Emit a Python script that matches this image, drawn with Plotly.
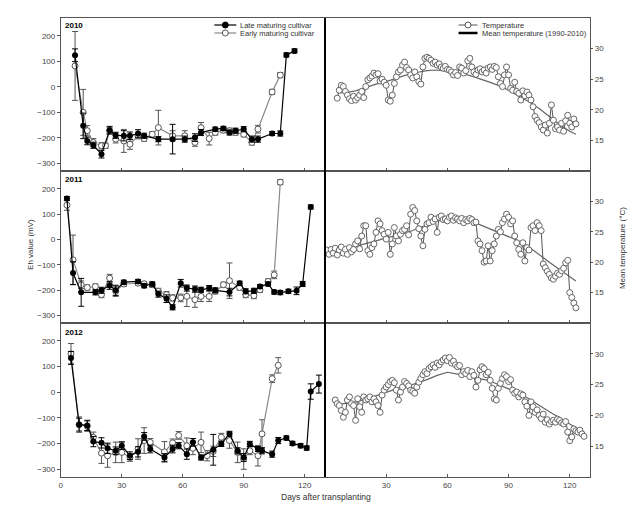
import plotly.graph_objects as go

# Eh values (mV) by year - late and early maturing cultivar
late_2010_day = [7, 11, 13, 16, 20, 24, 27, 31, 34, 38, 41, 48, 55, 61, 66, 69, 76, 80, 83, 86, 90, 94, 97, 104, 108, 111, 115]
late_2010_eh = [124, -153, -212, -229, -264, -170, -190, -192, -192, -183, -192, -205, -205, -205, -199, -179, -166, -163, -179, -172, -166, -205, -205, -183, -183, 125, 141]
late_2010_err = [25, 50, 15, 12, 15, 15, 12, 20, 15, 15, 10, 10, 58, 12, 15, 12, 8, 8, 10, 10, 10, 12, 12, 8, 10, 8, 8]
early_2010_day = [7, 11, 13, 16, 20, 22, 24, 27, 31, 34, 38, 41, 45, 48, 55, 61, 66, 69, 73, 76, 80, 83, 86, 90, 94, 97, 104, 108]
early_2010_eh = [82, -100, -172, -218, -231, -231, -172, -205, -212, -225, -192, -203, -186, -160, -192, -192, -218, -160, -203, -179, -170, -172, -179, -186, -218, -166, -20, 46]
early_2010_err = [135, 90, 20, 15, 12, 10, 12, 15, 45, 20, 12, 10, 10, 68, 20, 20, 15, 20, 25, 10, 10, 10, 10, 10, 10, 15, 10, 10]

late_2011_day = [3, 6, 10, 17, 20, 24, 27, 31, 38, 41, 45, 48, 52, 55, 59, 62, 66, 69, 73, 76, 83, 88, 91, 95, 98, 102, 105, 108, 112, 116, 119, 123]
late_2011_eh = [161, -133, -209, -209, -201, -182, -201, -169, -166, -183, -176, -216, -234, -268, -173, -192, -196, -199, -192, -201, -208, -173, -205, -203, -186, -176, -208, -210, -205, -203, -176, 128]
late_2011_err = [8, 45, 55, 10, 12, 15, 20, 8, 8, 8, 8, 12, 15, 10, 15, 12, 12, 10, 10, 10, 15, 8, 10, 10, 8, 8, 8, 8, 8, 15, 10, 8]
early_2011_day = [3, 6, 10, 13, 17, 20, 24, 27, 31, 38, 41, 45, 48, 52, 55, 59, 62, 66, 69, 73, 76, 80, 83, 88, 91, 95, 98, 102, 105, 108]
early_2011_eh = [135, -81, -179, -190, -186, -218, -153, -205, -176, -173, -175, -179, -205, -218, -231, -231, -225, -238, -225, -225, -205, -179, -163, -190, -218, -222, -199, -166, -140, 226]
early_2011_err = [20, 98, 15, 10, 10, 12, 15, 20, 10, 8, 8, 10, 12, 12, 12, 15, 40, 30, 20, 20, 10, 10, 70, 10, 12, 12, 10, 10, 15, 10]

late_2012_day = [5, 9, 13, 16, 20, 23, 27, 30, 34, 38, 41, 44, 51, 55, 58, 62, 65, 69, 75, 79, 83, 87, 90, 93, 97, 99, 104, 107, 111, 114, 118, 121, 123, 127]
late_2012_eh = [134, -126, -129, -192, -197, -218, -228, -208, -247, -232, -172, -221, -254, -221, -208, -241, -195, -254, -224, -201, -162, -228, -254, -201, -221, -228, -241, -188, -178, -199, -208, -217, 3, 32]
late_2012_err = [25, 25, 20, 20, 20, 20, 15, 15, 15, 20, 15, 15, 15, 15, 12, 20, 15, 10, 60, 10, 10, 12, 15, 10, 10, 12, 12, 12, 8, 8, 8, 8, 30, 35]
early_2012_day = [5, 9, 13, 16, 20, 23, 27, 30, 34, 38, 41, 44, 51, 55, 58, 62, 65, 69, 72, 75, 79, 83, 87, 90, 93, 97, 99, 104, 107]
early_2012_eh = [150, -126, -132, -175, -237, -247, -234, -234, -254, -221, -188, -195, -232, -197, -168, -208, -218, -195, -247, -230, -175, -188, -234, -260, -228, -247, -162, 53, 105]
early_2012_err = [40, 30, 20, 20, 40, 45, 40, 40, 15, 40, 50, 15, 40, 15, 15, 30, 25, 40, 20, 20, 15, 30, 40, 40, 15, 40, 55, 15, 30]

# daily temperature (deg C)
temp_2010 = [21.9, 23.2, 24.0, 23.8, 23.0, 22.4, 21.8, 21.5, 22.2, 21.6, 22.0, 22.4, 23.0, 22.0, 23.8,
             24.9, 25.2, 25.5, 26.0, 25.7, 25.9, 24.7, 25.0, 24.5, 24.0, 21.6, 21.4, 22.4, 24.3, 25.4,
             26.2, 26.5, 27.3, 27.8, 26.9, 26.5, 25.7, 25.2, 26.2, 25.4, 24.6, 24.2, 27.0, 28.4, 28.6,
             28.4, 28.1, 27.6, 27.8, 27.3, 27.5, 27.0, 26.8, 27.1, 26.6, 26.5, 26.2, 25.7, 26.1, 25.6,
             27.0, 26.8, 26.0, 26.4, 28.0, 28.4, 27.0, 26.2, 25.8, 26.5, 26.7, 26.2, 26.5, 26.0, 26.8,
             27.0, 26.6, 27.1, 26.9, 25.4, 24.3, 23.8, 25.7, 27.0, 25.7, 23.5, 23.2, 24.5, 23.0, 22.7,
             21.6, 23.1, 22.3, 22.9, 22.4, 21.6, 20.5, 18.9, 18.3, 17.9, 17.2, 16.7, 17.5, 16.2, 17.8,
             20.8, 18.3, 16.9, 17.2, 16.7, 17.8, 16.5, 18.2, 19.1, 17.8, 17.2, 18.5, 17.7]
temp_2010_day = list(range(6, 6 + len(temp_2010)))
temp_2011 = [22.0, 21.3, 22.1, 21.5, 22.3, 21.2, 22.0, 22.5, 21.5, 22.1, 21.3, 22.4, 21.7, 22.1, 23.0,
             23.5, 22.2, 24.3, 26.0, 26.0, 21.9, 21.3, 22.4, 23.0, 24.9, 26.8, 26.3, 25.2, 24.6, 23.8,
             24.9, 21.3, 23.0, 25.7, 24.3, 23.5, 24.6, 25.2, 25.4, 26.0, 24.5, 27.9, 29.0, 28.5, 26.8,
             25.5, 24.3, 22.7, 25.4, 26.3, 26.5, 27.4, 26.7, 27.1, 24.9, 27.4, 27.6, 27.0, 27.1, 26.8,
             27.4, 27.6, 26.9, 27.3, 27.1, 26.8, 27.2, 26.5, 27.0, 26.8, 27.2, 27.0, 26.5, 26.6, 23.5,
             23.0, 21.9, 20.0, 20.2, 22.7, 20.2, 21.9, 23.0, 24.3, 25.4, 25.0, 26.5, 27.1, 27.9, 27.4,
             26.3, 26.8, 24.3, 23.2, 22.1, 21.3, 23.2, 20.2, 22.4, 22.0, 25.7, 26.0, 25.2, 26.5, 26.0,
             25.2, 19.7, 19.1, 18.5, 18.0, 17.4, 17.2, 17.7, 18.2, 18.0, 18.6, 19.0, 19.9, 20.3, 15.0,
             14.2, 13.3, 12.5]
temp_2011_day = list(range(1, 1 + len(temp_2011)))
temp_2012 = [22.5, 21.9, 21.6, 20.8, 19.7, 20.5, 22.5, 23.0, 21.9, 21.6, 19.2, 22.7, 21.4, 20.5, 23.0,
             22.5, 22.7, 23.0, 22.2, 22.7, 22.2, 21.6, 20.5, 23.3, 24.1, 24.6, 25.0, 25.5, 25.7, 25.3,
             24.1, 22.5, 23.8, 24.6, 25.5, 25.2, 24.8, 24.1, 23.9, 23.6, 24.6, 25.4, 26.0, 26.6, 27.1,
             26.8, 27.6, 27.9, 28.2, 27.8, 28.5, 28.2, 28.7, 29.0, 29.3, 28.9, 29.4, 28.5, 28.8, 28.2,
             27.9, 28.1, 26.6, 27.1, 26.8, 27.3, 26.3, 27.1, 26.5, 24.6, 25.7, 27.4, 27.9, 27.6, 26.6,
             27.0, 25.7, 24.4, 22.7, 22.5, 24.4, 25.2, 26.0, 26.6, 26.3, 25.5, 25.8, 24.1, 23.6, 23.8,
             23.0, 23.5, 23.3, 22.2, 21.5, 20.0, 22.2, 21.4, 20.5, 20.9, 20.0, 19.5, 20.2, 18.9, 19.3,
             18.6, 19.0, 19.2, 18.9, 19.4, 19.2, 18.8, 18.6, 19.0, 17.3, 15.9, 16.5, 17.8, 17.5, 17.3,
             17.6, 17.0, 16.6]
temp_2012_day = list(range(5, 5 + len(temp_2012)))

# mean temperature 1990-2010
mean_2010_day = [6, 10, 15, 20, 25, 30, 35, 40, 45, 50, 55, 60, 65, 70, 75, 80, 85, 90, 95, 100, 105, 110, 115, 120, 123]
mean_2010 = [22.8, 22.8, 23.1, 23.7, 24.2, 24.6, 25.2, 25.7, 26.1, 26.4, 26.5, 26.3, 26.0, 25.7, 25.2, 24.6, 24.0, 23.2, 22.2, 21.3, 20.2, 18.9, 17.6, 16.5, 16.0]
mean_2011_day = [1, 5, 10, 15, 20, 25, 30, 35, 40, 45, 50, 55, 60, 65, 70, 75, 80, 85, 90, 95, 100, 105, 110, 115, 120, 123]
mean_2011 = [22.0, 22.1, 22.3, 22.6, 23.0, 23.5, 24.0, 24.4, 24.8, 25.5, 26.2, 26.8, 27.0, 27.1, 27.0, 26.3, 25.6, 25.0, 24.3, 23.5, 22.5, 21.2, 20.0, 18.8, 17.6, 16.9]
mean_2012_day = [5, 10, 15, 20, 25, 30, 35, 40, 45, 50, 55, 60, 65, 70, 75, 80, 85, 90, 95, 100, 105, 110, 115, 120, 125, 127]
mean_2012 = [21.7, 21.9, 22.2, 22.6, 23.2, 23.8, 24.3, 24.7, 25.2, 25.8, 26.5, 27.0, 26.7, 26.3, 26.0, 25.7, 25.0, 24.4, 23.6, 22.7, 21.6, 20.6, 19.6, 18.6, 17.5, 17.2]

years = ["2010", "2011", "2012"]
x_ticks_left = [0, 30, 60, 90, 120]
x_ticks_right = [30, 60, 90, 120]
eh_ticks = [-300, -200, -100, 0, 100, 200]
temp_ticks = [15, 20, 25, 30]

eh_data = [
    (late_2010_day, late_2010_eh, late_2010_err, early_2010_day, early_2010_eh, early_2010_err),
    (late_2011_day, late_2011_eh, late_2011_err, early_2011_day, early_2011_eh, early_2011_err),
    (late_2012_day, late_2012_eh, late_2012_err, early_2012_day, early_2012_eh, early_2012_err),
]
temp_data = [
    (temp_2010_day, temp_2010, mean_2010_day, mean_2010),
    (temp_2011_day, temp_2011, mean_2011_day, mean_2011),
    (temp_2012_day, temp_2012, mean_2012_day, mean_2012),
]

# page body has an 8px margin, so the figure is 8px smaller and offset
OFF = 8
W, H = 638 - OFF, 508 - OFF
FONT = "Liberation Sans, Arial, sans-serif"


def px(x):
    return (x - OFF) / W


def py(y):
    return 1 - (y - OFF) / H


col_dom = [[px(59), px(324)], [px(324), px(590)]]
row_dom = [[py(171), py(18)], [py(323), py(171)], [py(477), py(323)]]

fig = go.Figure()
layout = {}

for r in range(3):
    kl = r * 2 + 1
    kr = r * 2 + 2
    ld, le, lerr, ed, ee, eerr = eh_data[r]
    fig.add_trace(go.Scatter(
        x=ed, y=ee, mode="lines+markers", name="Early maturing cultivar",
        xaxis="x%d" % kl, yaxis="y%d" % kl, showlegend=False,
        line=dict(color="#8a8a8a", width=1.2),
        marker=dict(symbol="circle", size=6, color="white", line=dict(color="#555", width=1)),
        error_y=dict(type="data", array=eerr, color="#555", thickness=1, width=3),
    ))
    fig.add_trace(go.Scatter(
        x=ld, y=le, mode="lines+markers", name="Late maturing cultivar",
        xaxis="x%d" % kl, yaxis="y%d" % kl, showlegend=False,
        line=dict(color="black", width=1.2),
        marker=dict(symbol="circle", size=6, color="black"),
        error_y=dict(type="data", array=lerr, color="black", thickness=1, width=3),
    ))

    td, tv, md, mv = temp_data[r]
    fig.add_trace(go.Scatter(
        x=md, y=mv, mode="lines", name="Mean temperature (1990-2010)",
        xaxis="x%d" % kr, yaxis="y%d" % kr, showlegend=False,
        line=dict(color="#666", width=1.2),
    ))
    fig.add_trace(go.Scatter(
        x=td, y=tv, mode="lines+markers", name="Temperature",
        xaxis="x%d" % kr, yaxis="y%d" % kr, showlegend=False,
        line=dict(color="#555", width=1),
        marker=dict(symbol="circle", size=6, color="white", line=dict(color="#666", width=1)),
    ))

    axis_common = dict(showline=True, linecolor="#555", linewidth=1, mirror=True,
                       showgrid=False, zeroline=False, tickfont=dict(size=8, color="#444", family=FONT))
    layout["xaxis%d" % kl] = dict(axis_common, domain=col_dom[0], anchor="y%d" % kl, range=[0, 130],
                                  tickvals=x_ticks_left, showticklabels=(r == 2),
                                  ticks="inside", ticklen=3, tickcolor="#555")
    layout["xaxis%d" % kr] = dict(axis_common, domain=col_dom[1], anchor="y%d" % kr, range=[0, 130],
                                  tickvals=x_ticks_right, showticklabels=(r == 2),
                                  ticks="inside", ticklen=3, tickcolor="#555")
    layout["yaxis%d" % kl] = dict(axis_common, domain=row_dom[r], anchor="x%d" % kl, range=[-330, 270],
                                  tickvals=eh_ticks, ticks="outside", ticklen=3, tickcolor="#555")
    layout["yaxis%d" % kr] = dict(axis_common, domain=row_dom[r], anchor="x%d" % kr, range=[10, 35],
                                  side="right", tickvals=temp_ticks, ticks="outside", ticklen=2,
                                  tickcolor="#555")

annotations = []
shapes = []


def label(text, x, y, size=8, color="#333", angle=0, xanchor="center"):
    annotations.append(dict(text=text, x=px(x), y=py(y), xref="paper", yref="paper",
                            xanchor=xanchor, yanchor="middle", textangle=angle, showarrow=False,
                            borderpad=0, font=dict(size=size, color=color, family=FONT)))


year_y = [25, 179, 332]
for r, yr in enumerate(years):
    label("<b>%s</b>" % yr, 62, year_y[r], color="black", xanchor="left")
label("Eh value (mV)", 28, 244, angle=-90)
label("Mean temperature (°C)", 622, 248, angle=-90)
label("Days after transplanting", 325, 497, size=8.5)


# hand-drawn legend keys (compact row spacing like the original)
def key(x0, x1, y, color, width, marker=None):
    shapes.append(dict(type="line", xref="paper", yref="paper", x0=px(x0), x1=px(x1), y0=py(y), y1=py(y),
                       line=dict(color=color, width=width)))
    if marker is not None:
        c = (x0 + x1) / 2
        shapes.append(dict(type="circle", xref="paper", yref="paper", x0=px(c - 3), x1=px(c + 3),
                           y0=py(y + 3), y1=py(y - 3), fillcolor=marker[0],
                           line=dict(color=marker[1], width=1)))


key(213, 235, 25, "black", 1.2, ("black", "black"))
label("Late maturing cultivar", 238, 25, size=7.5, xanchor="left")
key(213, 235, 33, "#8a8a8a", 1.2, ("white", "#555"))
label("Early maturing cultivar", 238, 33, size=7.5, xanchor="left")
key(458, 477, 25, "#555", 1, ("white", "#555"))
label("Temperature", 480, 25, size=7.5, xanchor="left")
key(458, 477, 33, "black", 2.5)
label("Mean temperature (1990-2010)", 480, 33, size=7.5, xanchor="left")

shapes.append(dict(type="line", xref="paper", yref="paper", x0=px(324), x1=px(324), y0=py(477), y1=py(18),
                   line=dict(color="black", width=2)))

fig.update_layout(
    width=W, height=H,
    margin=dict(l=0, r=0, t=0, b=0),
    paper_bgcolor="white", plot_bgcolor="white",
    font=dict(family=FONT, size=8, color="#333"),
    showlegend=False,
    annotations=annotations,
    shapes=shapes,
    **layout,
)

fig.write_html("out.html")
